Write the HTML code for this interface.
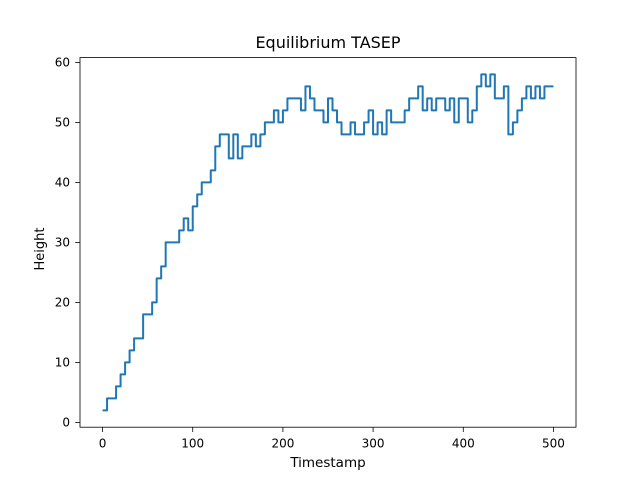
<!DOCTYPE html>
<html><head><meta charset="utf-8"><style>
body{margin:0;background:#fff}
svg text{font-family:"DejaVu Sans","Liberation Sans",sans-serif;fill:#000}
</style></head><body>
<svg id="chart" width="640" height="480" xmlns="http://www.w3.org/2000/svg">
<rect width="640" height="480" fill="#fff"/>
<text x="328" y="48" font-size="16" text-anchor="middle">Equilibrium TASEP</text>
<g id="ticks"></g>
<path id="line" fill="none" stroke="#1f77b4" stroke-width="2" stroke-linejoin="round"/>
<rect x="80" y="57.6" width="496" height="369.6" fill="none" stroke="#000" stroke-width="0.8"/>
<text x="328" y="467" font-size="13.5" text-anchor="middle">Timestamp</text>
<text transform="translate(44,249) rotate(-90)" font-size="13" text-anchor="middle">Height</text>
</svg>
<script>
const times=[0,5,10,15,20,25,30,35,40,45,50,55,60,65,70,75,80,85,90,95,100,105,110,115,120,125,130,135,140,145,150,155,160,165,170,175,180,185,190,195,200,205,210,215,220,225,230,235,240,245,250,255,260,265,270,275,280,285,290,295,300,305,310,315,320,325,330,335,340,345,350,355,360,365,370,375,380,385,390,395,400,405,410,415,420,425,430,435,440,445,450,455,460,465,470,475,480,485,490,495,500];
const heights=[2,4,4,6,8,10,12,14,14,18,18,20,24,26,30,30,30,32,34,32,36,38,40,40,42,46,48,48,44,48,44,46,46,48,46,48,50,50,52,50,52,54,54,54,52,56,54,52,52,50,54,52,50,48,48,50,48,48,50,52,48,50,48,52,50,50,50,52,54,54,56,52,54,52,54,54,52,54,50,54,54,50,52,56,58,56,58,54,54,56,48,50,52,54,56,54,56,54,56,56,56];
const xTicks=[0,100,200,300,400,500];
const yTicks=[0,10,20,30,40,50,60];
const X=t=>80+(t+25)/550*496;
const Y=v=>427.2-(v+0.8)/61.6*369.6;
let d='';
times.forEach((t,i)=>{
  if(i===0) d+='M'+X(t)+','+Y(heights[i]);
  else d+='L'+X(t)+','+Y(heights[i-1])+'L'+X(t)+','+Y(heights[i]);
});
document.getElementById('line').setAttribute('d',d);
const g=document.getElementById('ticks');
const ns='http://www.w3.org/2000/svg';
xTicks.forEach(t=>{
  const l=document.createElementNS(ns,'line');
  l.setAttribute('x1',X(t));l.setAttribute('x2',X(t));l.setAttribute('y1',427.2);l.setAttribute('y2',432);l.setAttribute('stroke','#000');l.setAttribute('stroke-width','0.8');
  
  
  g.appendChild(l);
  const tx=document.createElementNS(ns,'text');
  tx.setAttribute('x',X(t));tx.setAttribute('y',447.5);tx.setAttribute('font-size','12');tx.setAttribute('text-anchor','middle');
  tx.textContent=t;
  
  
  g.appendChild(tx);
});
yTicks.forEach(v=>{
  const l=document.createElementNS(ns,'line');
  l.setAttribute('x1',75.2);l.setAttribute('x2',80);l.setAttribute('y1',Y(v));l.setAttribute('y2',Y(v));l.setAttribute('stroke','#000');l.setAttribute('stroke-width','0.8');
  
  
  g.appendChild(l);
  const tx=document.createElementNS(ns,'text');
  tx.setAttribute('x',70);tx.setAttribute('y',Y(v)+4.3);tx.setAttribute('font-size','12');tx.setAttribute('text-anchor','end');
  tx.textContent=v;
  
  
  g.appendChild(tx);
});
</script>
</body></html>
